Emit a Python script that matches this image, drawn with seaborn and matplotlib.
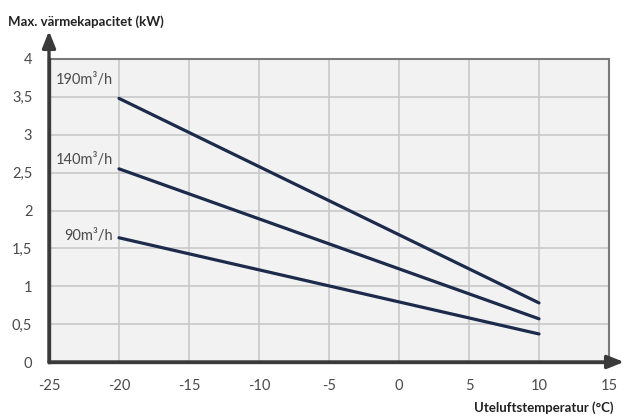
import numpy as np
import pandas as pd
import matplotlib
matplotlib.use("Agg")
import matplotlib.pyplot as plt
import seaborn as sns

# data
temps = [-20, 10]
flows = ["190m³/h", "140m³/h", "90m³/h"]
kw_190 = [3.48, 0.78]
kw_140 = [2.55, 0.57]
kw_90 = [1.64, 0.37]
label_y = [3.72, 2.67, 1.66]

x_ticks = [-25, -20, -15, -10, -5, 0, 5, 10, 15]
y_ticks = [0, 0.5, 1, 1.5, 2, 2.5, 3, 3.5, 4]
y_ticklabels = ["0", "0,5", "1", "1,5", "2", "2,5", "3", "3,5", "4"]

df = pd.DataFrame({
    "temp": temps * 3,
    "kw": kw_190 + kw_140 + kw_90,
    "flow": [f for f in flows for _ in temps],
})

sns.set_style("white")
plt.rcParams["font.family"] = ["Lato", "DejaVu Sans"]

fig = plt.figure(figsize=(6.25, 4.18), dpi=100)
ax = fig.add_axes([49 / 625, 1 - 362 / 418, 560 / 625, 303 / 418])
ax.set_facecolor("#f2f2f2")

navy = "#1c2a4c"
sns.lineplot(data=df, x="temp", y="kw", units="flow", estimator=None,
             color=navy, linewidth=2.3, ax=ax, legend=False)

ax.set_xlim(-25, 15)
ax.set_ylim(0, 4)
ax.set_xticks(x_ticks)
ax.set_xticklabels([str(t) for t in x_ticks])
ax.set_yticks(y_ticks)
ax.set_yticklabels(y_ticklabels)
ax.grid(True, color="#c8c8c8", linewidth=1.2)
ax.set_axisbelow(True)
ax.tick_params(axis="both", length=7, width=1, color="#999999",
               labelcolor="#4a4a4a", labelsize=10.5, pad=5)

for s in ["top", "right"]:
    ax.spines[s].set_color("#7a7a7a")
    ax.spines[s].set_linewidth(1.5)
for s in ["left", "bottom"]:
    ax.spines[s].set_color("#3a3a3a")
    ax.spines[s].set_linewidth(2.4)
    ax.spines[s].set_zorder(5)

ax.set_xlabel("")
ax.set_ylabel("")

# series labels
for name, yv in zip(flows, label_y):
    ax.text(-20.45, yv, name, ha="right", va="center", fontsize=10.5,
            color="#4a4a4a")

# axis arrows
ax.annotate("", xy=(624 / 625, 1 - 362 / 418), xytext=(49 / 625, 1 - 362 / 418),
            xycoords="figure fraction",
            arrowprops=dict(arrowstyle="-|>,head_length=1.0,head_width=0.4",
                            color="#3a3a3a", lw=2.4, shrinkA=0, shrinkB=0))
ax.annotate("", xy=(49 / 625, 1 - 31 / 418), xytext=(49 / 625, 1 - 362 / 418),
            xycoords="figure fraction",
            arrowprops=dict(arrowstyle="-|>,head_length=1.0,head_width=0.4",
                            color="#3a3a3a", lw=2.4, shrinkA=0, shrinkB=0))

fig.text(8 / 625, 1 - 22 / 418, "Max. värmekapacitet (kW)", fontsize=9.5,
         fontweight="bold", color="#222222", ha="left", va="center")
fig.text(613 / 625, 1 - 408 / 418, "Uteluftstemperatur (°C)", fontsize=9.5,
         fontweight="bold", color="#222222", ha="right", va="center")

fig.savefig("out.png", dpi=100)
